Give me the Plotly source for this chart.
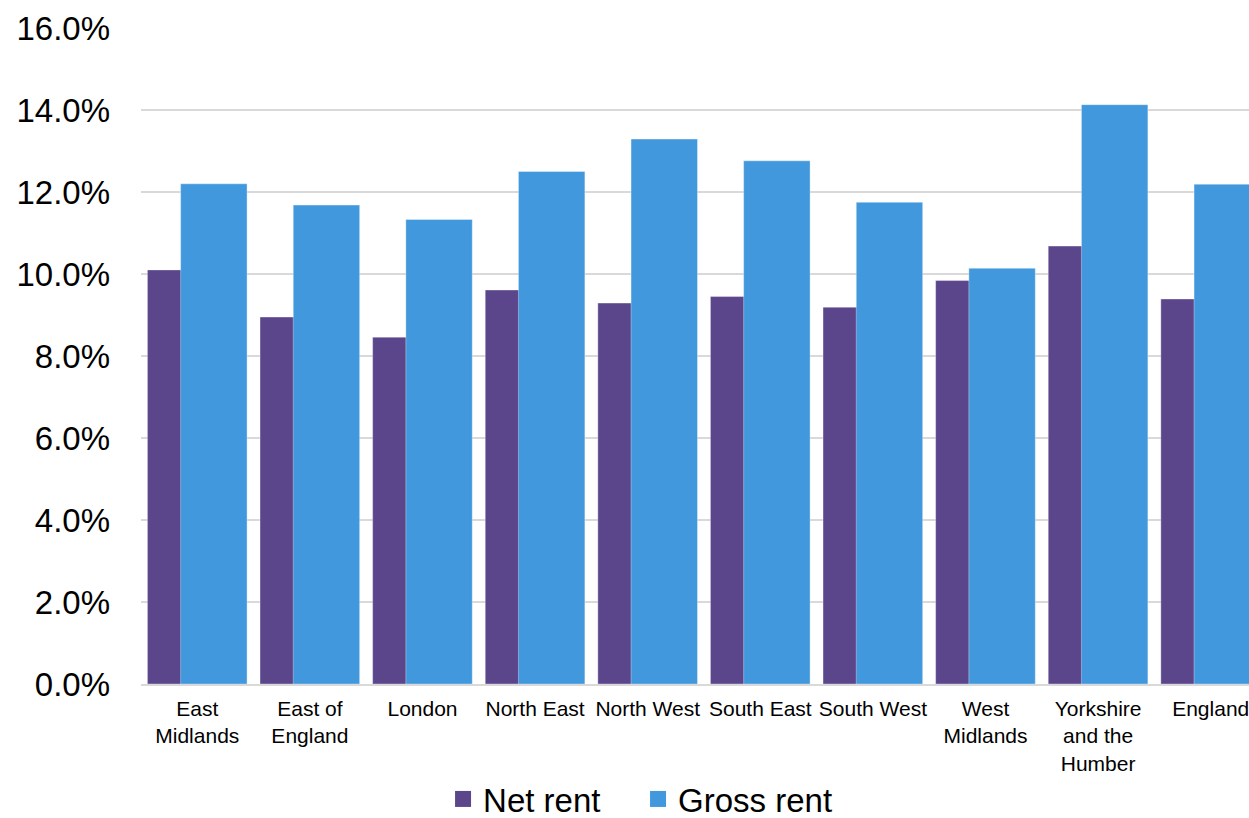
import plotly.graph_objects as go

categories = ["East<br>Midlands", "East of<br>England", "London", "North East", "North West",
              "South East", "South West", "West<br>Midlands", "Yorkshire<br>and the<br>Humber", "England"]
net_rent = [0.1010, 0.0895, 0.0846, 0.0961, 0.0929, 0.0945, 0.0919, 0.0984, 0.1068, 0.0939]
gross_rent = [0.1220, 0.1168, 0.1133, 0.1250, 0.1329, 0.1276, 0.1175, 0.1014, 0.1413, 0.1219]
y_ticks = [0.0, 0.02, 0.04, 0.06, 0.08, 0.10, 0.12, 0.14, 0.16]

NET_COLOR = "#5B468C"
GROSS_COLOR = "#4198DD"
FONT = "Liberation Sans, Arial, sans-serif"

x_idx = list(range(len(categories)))

fig = go.Figure()
fig.add_trace(go.Bar(x=x_idx, y=net_rent, name="Net rent", marker_color=NET_COLOR,
                     marker_line=dict(color="rgba(255,255,255,0.35)", width=1),
                     width=0.59, offset=-0.443, showlegend=False))
fig.add_trace(go.Bar(x=x_idx, y=gross_rent, name="Gross rent", marker_color=GROSS_COLOR,
                     marker_line=dict(color="rgba(255,255,255,0.35)", width=1),
                     width=0.59, offset=-0.148, showlegend=False))
# legend proxies
fig.add_trace(go.Scatter(x=[None], y=[None], mode="markers", name="Net rent",
                         marker=dict(symbol="square", size=20, color=NET_COLOR)))
fig.add_trace(go.Scatter(x=[None], y=[None], mode="markers", name="Gross rent",
                         marker=dict(symbol="square", size=20, color=GROSS_COLOR)))

fig.update_layout(
    width=1249, height=818,
    margin=dict(l=141, r=0, t=28, b=134, autoexpand=False),
    barmode="overlay",
    plot_bgcolor="white", paper_bgcolor="white",
    font=dict(family=FONT, color="#000000"),
    legend=dict(orientation="h", x=0.4486, xanchor="center", y=-0.1753, yanchor="middle",
                font=dict(size=33, family=FONT, color="#000000"), itemsizing="trace",
                tracegroupgap=0, itemwidth=30, entrywidth=150, entrywidthmode="pixels"),
    showlegend=True,
)
fig.update_xaxes(
    range=[-0.5, 9.34], tickmode="array", tickvals=x_idx, ticktext=categories,
    tickfont=dict(size=21, family=FONT, color="#000000"), tickangle=0,
    showgrid=False, showline=True, linecolor="#d9d9d9", linewidth=1.5,
    ticks="", ticklabelstandoff=5, zeroline=False, automargin=False,
    ticklabeloverflow="allow",
)
fig.update_yaxes(
    range=[0, 0.16], tickmode="array", tickvals=y_ticks, tickformat=".1%",
    tickfont=dict(size=33, family=FONT, color="#000000"),
    showgrid=True, gridcolor="#d9d9d9", gridwidth=1.5,
    showline=False, zeroline=False, ticks="", ticklabelstandoff=30, automargin=False,
)

fig.write_html("out.html")
